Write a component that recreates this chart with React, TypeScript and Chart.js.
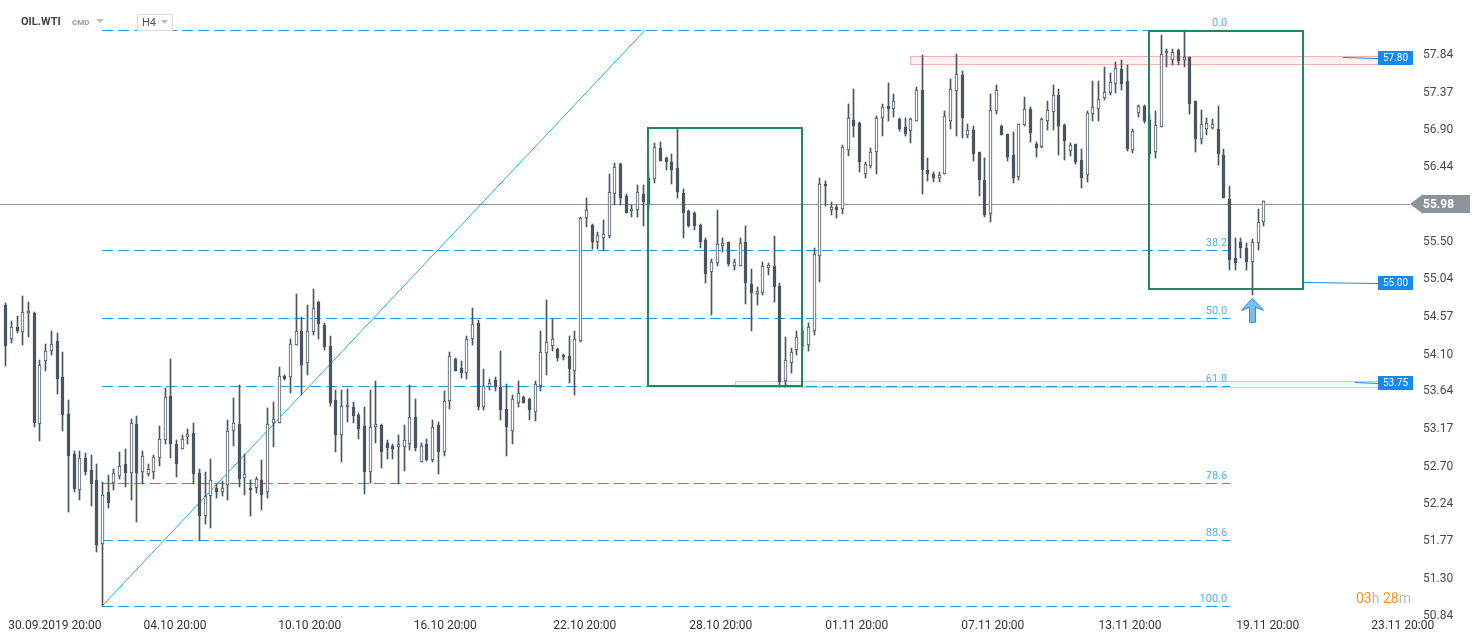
import React, { useEffect, useRef } from "react";
import { Chart, registerables } from "chart.js";

Chart.register(...registerables);

// ---------- data (OIL.WTI, H4) ----------
const opens = [
  54.72, 54.29, 54.45, 54.38, 54.62, 54.62, 53.23, 54.02, 54.15, 54.27, 53.82, 53.36, 52.86, 52.41, 52.81, 52.66, 52.53, 51.74, 52.38, 52.50,
  52.59, 52.73, 52.62, 53.23, 52.63, 52.61, 52.64, 52.81, 53.04, 53.58, 52.98, 52.92, 53.07, 53.12, 52.62, 52.08, 52.33, 52.43, 52.39, 52.47,
  53.14, 53.23, 52.56, 52.44, 52.44, 52.54, 52.38, 53.24, 53.25, 53.83, 53.82, 54.22, 54.39, 53.99, 54.38, 54.76, 54.47, 54.21, 53.53, 53.10,
  53.44, 53.45, 53.35, 53.21, 52.63, 53.19, 53.22, 53.00, 52.96, 52.95, 52.95, 52.99, 53.32, 52.76, 52.99, 52.78, 53.22, 52.89, 53.52, 54.04,
  53.93, 53.87, 54.29, 54.49, 53.45, 53.70, 53.78, 53.69, 53.42, 53.15, 53.50, 53.57, 53.55, 53.38, 53.71, 54.12, 54.21, 54.17, 54.10, 54.08,
  53.89, 54.27, 55.80, 55.72, 55.50, 55.55, 55.58, 56.10, 56.48, 56.08, 55.89, 55.91, 56.10, 56.30, 56.29, 56.68, 56.55, 56.51, 56.43, 56.12,
  55.89, 55.87, 55.72, 55.53, 55.13, 55.24, 55.45, 55.50, 55.21, 55.21, 55.50, 54.98, 54.86, 54.87, 55.18, 55.21, 54.96, 53.77, 54.00, 54.16,
  54.21, 54.22, 54.39, 55.33, 56.23, 55.90, 55.94, 55.92, 56.65, 57.03, 56.99, 56.35, 56.46, 56.63, 57.05, 57.20, 57.16, 57.04, 56.94, 56.89,
  57.02, 57.40, 56.41, 56.35, 56.30, 56.35, 57.02, 57.39, 57.59, 56.84, 56.90, 56.63, 56.28, 55.85, 57.14, 56.95, 56.85, 56.59, 56.32, 56.97,
  57.16, 56.73, 56.69, 57.02, 57.13, 57.34, 56.97, 56.64, 56.73, 56.53, 56.34, 57.10, 57.16, 57.30, 57.36, 57.48, 57.66, 57.51, 56.66, 57.11,
  57.20, 57.03, 56.63, 56.94, 57.86, 57.78, 57.90, 57.78, 57.81, 57.26, 56.79, 56.92, 56.93, 56.92, 56.59, 56.04, 55.30, 55.50, 55.43, 55.25,
  55.49, 55.76,
];
const highs = [
  54.74, 54.52, 54.58, 54.83, 54.76, 54.63, 54.03, 54.23, 54.39, 54.37, 54.13, 53.53, 52.90, 52.90, 52.87, 52.85, 52.73, 52.51, 52.60, 52.67,
  52.88, 52.92, 53.30, 53.33, 52.90, 52.73, 52.85, 53.21, 53.68, 54.04, 53.03, 53.10, 53.17, 53.25, 52.67, 52.63, 52.80, 52.48, 52.52, 53.28,
  53.56, 53.72, 52.86, 52.54, 52.57, 52.78, 53.43, 53.51, 53.94, 53.84, 54.29, 54.86, 54.57, 54.72, 54.92, 54.77, 54.49, 54.33, 53.66, 53.66,
  53.67, 53.51, 53.37, 53.45, 53.66, 53.77, 53.23, 53.04, 52.98, 53.10, 53.22, 53.72, 53.55, 53.00, 53.05, 53.28, 53.26, 53.65, 54.13, 54.06,
  54.02, 54.33, 54.68, 54.53, 53.92, 53.80, 53.82, 54.14, 53.73, 53.59, 53.77, 53.58, 53.56, 53.77, 54.39, 54.78, 54.55, 54.18, 54.11, 54.33,
  54.39, 55.82, 56.06, 55.73, 55.63, 55.78, 56.35, 56.49, 56.49, 56.10, 55.97, 56.22, 56.22, 56.38, 56.74, 56.75, 56.57, 56.60, 56.92, 56.17,
  55.90, 55.88, 55.73, 55.55, 55.29, 55.91, 55.56, 55.51, 55.29, 55.56, 55.71, 55.17, 54.95, 55.26, 55.24, 55.58, 54.99, 54.32, 54.18, 54.39,
  54.45, 54.50, 55.43, 56.31, 56.27, 56.01, 55.97, 56.72, 57.23, 57.42, 57.00, 56.50, 56.68, 57.08, 57.23, 57.49, 57.35, 57.05, 57.05, 57.06,
  57.44, 57.84, 56.56, 56.38, 56.38, 57.14, 57.54, 57.85, 57.64, 56.98, 56.96, 56.63, 56.55, 57.35, 57.47, 56.97, 56.85, 56.88, 56.98, 57.32,
  57.19, 56.75, 57.05, 57.27, 57.47, 57.41, 56.98, 56.74, 56.73, 56.67, 57.14, 57.51, 57.51, 57.69, 57.62, 57.75, 57.78, 57.71, 56.92, 57.21,
  57.22, 57.09, 57.14, 58.09, 57.92, 57.91, 57.91, 58.15, 57.82, 57.27, 57.15, 57.05, 57.04, 57.20, 56.67, 56.20, 55.55, 55.55, 55.49, 55.54,
  55.92, 56.02,
];
const lows = [
  53.96, 54.24, 54.37, 54.22, 54.32, 53.19, 53.02, 53.89, 54.10, 53.61, 53.15, 52.14, 52.38, 52.28, 52.60, 52.21, 51.63, 50.96, 52.18, 52.41,
  52.55, 52.45, 52.28, 52.01, 52.49, 52.58, 52.55, 52.71, 52.98, 52.81, 52.57, 52.92, 52.98, 52.49, 51.79, 51.99, 51.93, 52.31, 52.33, 52.28,
  52.96, 52.45, 52.35, 52.08, 52.37, 52.16, 52.31, 52.95, 53.25, 53.78, 53.62, 54.22, 53.60, 53.84, 54.34, 54.29, 54.16, 53.46, 52.89, 52.76,
  53.26, 53.24, 53.05, 52.36, 52.50, 53.00, 52.69, 52.80, 52.80, 52.49, 52.65, 52.91, 52.90, 52.76, 52.77, 52.76, 52.61, 52.83, 53.42, 53.89,
  53.81, 53.80, 54.22, 53.41, 53.41, 53.66, 53.64, 53.28, 52.84, 52.99, 53.44, 53.49, 53.28, 53.27, 53.64, 53.84, 54.14, 54.02, 54.03, 53.75,
  53.59, 54.26, 55.69, 55.42, 55.42, 55.40, 55.56, 55.97, 55.97, 55.87, 55.82, 55.82, 55.71, 55.91, 56.24, 56.52, 56.40, 56.23, 56.06, 55.56,
  55.69, 55.65, 55.43, 55.00, 54.59, 55.21, 55.38, 55.20, 55.15, 55.20, 54.73, 54.40, 54.72, 54.85, 55.09, 54.76, 53.70, 53.70, 53.87, 54.10,
  54.15, 54.15, 54.34, 55.01, 55.96, 55.84, 55.81, 55.85, 56.58, 56.82, 56.38, 56.31, 56.43, 56.36, 56.83, 57.02, 57.07, 56.89, 56.83, 56.74,
  57.02, 56.10, 56.27, 56.26, 56.25, 56.35, 56.92, 56.83, 56.81, 56.81, 56.52, 56.08, 55.82, 55.76, 57.10, 56.84, 56.52, 56.24, 56.28, 56.95,
  56.76, 56.57, 56.68, 56.91, 56.91, 56.59, 56.53, 56.58, 56.48, 56.18, 56.25, 57.02, 57.02, 57.28, 57.34, 57.36, 57.40, 56.64, 56.62, 57.07,
  56.99, 56.55, 56.56, 56.94, 57.69, 57.72, 57.72, 57.69, 57.10, 56.63, 56.73, 56.84, 56.92, 56.47, 56.05, 55.15, 55.15, 55.30, 55.15, 54.84,
  55.40, 55.70,
];
const closes = [
  54.21, 54.44, 54.39, 54.63, 54.64, 53.24, 53.97, 54.15, 54.23, 53.80, 53.35, 52.84, 52.42, 52.81, 52.64, 52.49, 51.72, 52.35, 52.25, 52.62,
  52.71, 52.62, 53.25, 52.62, 52.83, 52.67, 52.82, 53.05, 53.57, 52.99, 52.74, 53.05, 53.11, 52.61, 52.08, 52.33, 52.53, 52.38, 52.44, 53.14,
  53.24, 52.55, 52.61, 52.41, 52.55, 52.35, 53.23, 53.30, 53.83, 53.79, 54.23, 54.39, 53.97, 54.39, 54.68, 54.48, 54.20, 53.50, 53.09, 53.46,
  53.47, 53.33, 53.17, 52.64, 53.20, 53.23, 52.88, 52.94, 52.92, 52.98, 53.03, 53.32, 52.94, 52.96, 52.78, 53.20, 52.89, 53.52, 54.08, 53.90,
  53.87, 54.30, 54.48, 53.45, 53.71, 53.75, 53.69, 53.41, 53.19, 53.55, 53.62, 53.50, 53.41, 53.73, 54.13, 54.26, 54.30, 54.06, 54.07, 53.92,
  54.29, 55.81, 55.91, 55.50, 55.59, 55.60, 56.13, 56.44, 56.05, 55.87, 55.92, 56.13, 56.00, 55.98, 56.69, 56.52, 56.51, 56.41, 56.13, 55.87,
  55.70, 55.70, 55.51, 55.10, 55.26, 55.48, 55.49, 55.23, 55.25, 55.49, 54.99, 54.87, 54.89, 55.21, 55.22, 54.95, 53.76, 54.03, 54.13, 54.32,
  54.40, 54.44, 55.35, 56.23, 56.20, 55.94, 55.91, 56.69, 57.05, 56.95, 56.51, 56.48, 56.63, 57.05, 57.19, 57.17, 57.26, 56.92, 56.86, 57.04,
  57.40, 56.41, 56.36, 56.30, 56.34, 57.08, 57.42, 57.60, 57.06, 56.91, 56.61, 56.28, 55.84, 57.15, 57.40, 56.84, 56.57, 56.31, 56.98, 57.17,
  56.87, 56.68, 57.04, 57.15, 57.34, 56.95, 56.77, 56.72, 56.50, 56.31, 57.12, 57.19, 57.29, 57.38, 57.50, 57.68, 57.48, 56.67, 56.89, 57.20,
  57.02, 56.60, 56.97, 57.85, 57.89, 57.88, 57.76, 57.81, 57.23, 56.79, 56.98, 56.99, 56.98, 56.61, 56.06, 55.28, 55.24, 55.43, 55.26, 55.50,
  55.76, 56.02,
];

const xTickLabels = [
  "30.09.2019 20:00", "04.10 20:00", "10.10 20:00", "16.10 20:00", "22.10 20:00", "28.10 20:00",
  "01.11 20:00", "07.11 20:00", "13.11 20:00", "19.11 20:00", "23.11 20:00",
];
const xTickIndex = [8.7, 29.8, 53.5, 77.3, 101.8, 125.7, 149.6, 173.5, 197.6, 221.8, 245.5];
const yTickLabels = [
  "57.84", "57.37", "56.90", "56.44", "55.50", "55.04", "54.57", "54.10",
  "53.64", "53.17", "52.70", "52.24", "51.77", "51.30", "50.84",
];

const lastPrice = 55.98;
const fibLevels = [0, 38.2, 50, 61.8, 78.6, 88.6, 100];
const fibLabels = ["0.0", "38.2", "50.0", "61.8", "78.6", "88.6", "100.0"];
const fibHigh = 58.15;
const fibLow = 50.96;
const fibStartIdx = 17;
const fibEndIdx = 215.2;
const trendEndIdx = 112.4;

const boxFrom = [112.9, 200.9];
const boxTo = [140.0, 228.0];
const boxTop = [56.93, 58.14];
const boxBottom = [53.71, 54.92];

const zoneFrom = [158.9, 128.2];
const zoneTo = [241.2, 241.2];
const zoneTop = [57.83, 53.77];
const zoneBottom = [57.73, 53.70];

const tagLabels = ["57.80", "55.00", "53.75"];
const tagValues = [57.8, 55.0, 53.75];
const tagLineFrom = [235.0, 228.0, 237.1];

const arrowIdx = 219;
const timerParts = ["03", "h", " 28", "m"];

// ---------- layout constants ----------
const W = 1482;
const H = 643;
const X_MIN = -0.93;
const X_MAX = 246.79;
const Y_MIN = 50.824;
const Y_MAX = 58.527;
const DARK = "#47565f";
const FIB_BLUE = "#1a9fe8";
const FONT = "Roboto, 'Liberation Sans', Arial, sans-serif";

const fibPrice = (lvl: number) => fibHigh - (lvl / 100) * (fibHigh - fibLow);

// pixel-snap candle elements so 1px wicks and 3px bodies stay crisp
const snapPlugin = {
  id: "snapCandles",
  afterDatasetsUpdate(chart: any) {
    chart.getSortedVisibleDatasetMetas().forEach((meta: any) => {
      meta.data.forEach((el: any) => {
        el.x = Math.round(el.x) + 0.5;
        el.y = Math.round(el.y);
        el.base = Math.round(el.base);
      });
    });
  },
};

const overlayPlugin = {
  id: "overlays",
  beforeDatasetsDraw(chart: any) {
    const { ctx, chartArea } = chart;
    const xs = chart.scales.x;
    const ys = chart.scales.y;
    const px = (v: number) => xs.getPixelForValue(v);
    const py = (v: number) => ys.getPixelForValue(v);
    const snap = (v: number) => Math.round(v) + 0.5;
    ctx.save();
    // zones
    const zoneFill = ["rgba(250,205,205,0.30)", "rgba(190,240,220,0.30)"];
    const zoneStroke = ["#f3b3b3", "#9fe2c6"];
    for (let i = 0; i < zoneFrom.length; i++) {
      const x1 = px(zoneFrom[i]);
      const x2 = px(zoneTo[i]);
      const y1 = py(zoneTop[i]);
      const y2 = py(zoneBottom[i]);
      ctx.fillStyle = zoneFill[i];
      ctx.fillRect(x1, y1, x2 - x1, y2 - y1);
      ctx.strokeStyle = zoneStroke[i];
      ctx.lineWidth = 1;
      ctx.strokeRect(snap(x1), snap(y1), Math.round(x2 - x1), Math.round(y2 - y1));
    }
    // current price line
    ctx.strokeStyle = "#8d969c";
    ctx.lineWidth = 1;
    const yp = snap(py(lastPrice));
    ctx.beginPath();
    ctx.moveTo(chartArea.left, yp);
    ctx.lineTo(chartArea.right, yp);
    ctx.stroke();
    // fib lines
    ctx.setLineDash([11, 5]);
    ctx.strokeStyle = FIB_BLUE;
    for (const lvl of fibLevels) {
      const yy = snap(py(fibPrice(lvl)));
      ctx.beginPath();
      ctx.moveTo(px(fibStartIdx), yy);
      ctx.lineTo(px(fibEndIdx), yy);
      ctx.stroke();
    }
    ctx.setLineDash([]);
    // trend line
    ctx.strokeStyle = "#2aa6ef";
    ctx.beginPath();
    ctx.moveTo(px(fibStartIdx), py(fibLow));
    ctx.lineTo(px(trendEndIdx), py(fibHigh));
    ctx.stroke();
    ctx.restore();
  },
  afterDatasetsDraw(chart: any) {
    const { ctx, chartArea } = chart;
    const xs = chart.scales.x;
    const ys = chart.scales.y;
    const px = (v: number) => xs.getPixelForValue(v);
    const py = (v: number) => ys.getPixelForValue(v);
    ctx.save();
    // green boxes
    ctx.strokeStyle = "#22875c";
    ctx.lineWidth = 2;
    for (let i = 0; i < boxFrom.length; i++) {
      const x1 = Math.round(px(boxFrom[i]));
      const x2 = Math.round(px(boxTo[i]));
      const y1 = Math.round(py(boxTop[i]));
      const y2 = Math.round(py(boxBottom[i]));
      ctx.strokeRect(x1, y1, x2 - x1, y2 - y1);
    }
    // fib labels
    ctx.font = `11px ${FONT}`;
    ctx.fillStyle = "#4db3ee";
    ctx.textAlign = "right";
    ctx.textBaseline = "alphabetic";
    fibLevels.forEach((lvl, i) => {
      const yy = Math.round(py(fibPrice(lvl)));
      ctx.fillText(fibLabels[i], px(fibEndIdx) - 3, yy - 4);
    });
    // value tags
    const tagLeft = px(zoneTo[0]);
    for (let i = 0; i < tagLabels.length; i++) {
      const yc = Math.round(py(tagValues[i]));
      ctx.strokeStyle = "#1e88e5";
      ctx.lineWidth = 1;
      ctx.beginPath();
      ctx.moveTo(px(tagLineFrom[i]), yc - 0.5);
      ctx.lineTo(tagLeft, yc + 0.5);
      ctx.stroke();
      ctx.fillStyle = "#1589ee";
      ctx.fillRect(Math.round(tagLeft), yc - 7, 35, 14);
      ctx.fillStyle = "#ffffff";
      ctx.font = `10px ${FONT}`;
      ctx.textAlign = "center";
      ctx.textBaseline = "middle";
      ctx.fillText(tagLabels[i], Math.round(tagLeft) + 17.5, yc + 0.5);
    }
    // up arrow marker
    const ax = Math.round(px(arrowIdx)) + 0.5;
    const ay = py(lows[arrowIdx]) + 3;
    ctx.beginPath();
    ctx.moveTo(ax, ay);
    ctx.lineTo(ax + 11, ay + 12);
    ctx.lineTo(ax + 3, ay + 9);
    ctx.lineTo(ax + 3, ay + 24);
    ctx.lineTo(ax - 3, ay + 24);
    ctx.lineTo(ax - 3, ay + 9);
    ctx.lineTo(ax - 11, ay + 12);
    ctx.closePath();
    ctx.fillStyle = "#74c0f6";
    ctx.fill();
    ctx.strokeStyle = "#2f8ee0";
    ctx.lineWidth = 1;
    ctx.stroke();
    // last price tag
    const r = chartArea.right;
    const yc = Math.round(py(lastPrice));
    ctx.beginPath();
    ctx.moveTo(r, yc);
    ctx.lineTo(r + 12, yc - 9);
    ctx.lineTo(r + 60, yc - 9);
    ctx.lineTo(r + 60, yc + 9);
    ctx.lineTo(r + 12, yc + 9);
    ctx.closePath();
    ctx.fillStyle = "#8b949a";
    ctx.fill();
    ctx.fillStyle = "#ffffff";
    ctx.font = `bold 12px ${FONT}`;
    ctx.textAlign = "left";
    ctx.textBaseline = "middle";
    ctx.fillText(lastPrice.toFixed(2), r + 13, yc + 0.5);
    ctx.restore();
  },
  afterDraw(chart: any) {
    const { ctx } = chart;
    ctx.save();
    ctx.textBaseline = "middle";
    ctx.textAlign = "left";
    ctx.font = `bold 11px ${FONT}`;
    ctx.fillStyle = "#3a4550";
    ctx.fillText("OIL.WTI", 21, 22);
    ctx.font = `bold 8px ${FONT}`;
    ctx.fillStyle = "#8e9aa6";
    ctx.fillText("CMD", 72, 23);
    ctx.fillStyle = "#b8c0c6";
    ctx.beginPath();
    ctx.moveTo(96, 19);
    ctx.lineTo(104, 19);
    ctx.lineTo(100, 23);
    ctx.closePath();
    ctx.fill();
    ctx.strokeStyle = "#dcdcdc";
    ctx.lineWidth = 1;
    ctx.strokeRect(137.5, 14.5, 35, 16);
    ctx.font = `11px ${FONT}`;
    ctx.fillStyle = "#555555";
    ctx.fillText("H4", 142, 23);
    ctx.fillStyle = "#b8c0c6";
    ctx.beginPath();
    ctx.moveTo(161, 20);
    ctx.lineTo(168, 20);
    ctx.lineTo(164.5, 24);
    ctx.closePath();
    ctx.fill();
    // timer
    ctx.font = `14px ${FONT}`;
    ctx.textBaseline = "alphabetic";
    let tx = 1356;
    timerParts.forEach((t, i) => {
      ctx.fillStyle = i % 2 === 0 ? "#f7941d" : "#b9b9b9";
      ctx.fillText(t, tx, 603);
      tx += ctx.measureText(t).width;
    });
    ctx.restore();
  },
};

export default function App() {
  const ref = useRef<HTMLCanvasElement | null>(null);
  useEffect(() => {
    if (!ref.current) return;
    const idx = opens.map((_, i) => i);
    const chart = new Chart(ref.current, {
      type: "bar",
      data: {
        datasets: [
          {
            label: "wick",
            data: idx.map((i) => ({ x: i, y: [lows[i], highs[i]] })) as any,
            backgroundColor: DARK,
            borderWidth: 0,
            barThickness: 1,
            grouped: false,
            order: 2,
          } as any,
          {
            label: "body",
            data: idx.map((i) => ({ x: i, y: [opens[i], closes[i]] })) as any,
            backgroundColor: idx.map((i) => (closes[i] >= opens[i] ? "#ffffff" : DARK)),
            borderColor: DARK,
            borderWidth: 1,
            borderSkipped: false,
            barThickness: 3,
            minBarLength: 2,
            grouped: false,
            order: 1,
          } as any,
        ],
      },
      options: {
        responsive: false,
        animation: false,
        devicePixelRatio: 1,
        layout: { padding: 0 },
        plugins: { legend: { display: false }, tooltip: { enabled: false } },
        scales: {
          x: {
            type: "linear",
            min: X_MIN,
            max: X_MAX,
            offset: false,
            grid: { display: false, drawTicks: false },
            border: { display: false },
            afterBuildTicks: (s: any) => {
              s.ticks = xTickIndex.map((v) => ({ value: v }));
            },
            afterFit: (s: any) => {
              s.height = 26;
              s.paddingLeft = 0;
              s.paddingRight = 0;
            },
            ticks: {
              autoSkip: false,
              maxRotation: 0,
              minRotation: 0,
              padding: 2,
              color: "#333333",
              font: { family: FONT, size: 12 },
              callback: (_v: any, i: number) => xTickLabels[i],
            },
          },
          y: {
            type: "linear",
            position: "right",
            min: Y_MIN,
            max: Y_MAX,
            grid: { display: false, drawTicks: false },
            border: { display: false },
            afterBuildTicks: (s: any) => {
              s.ticks = yTickLabels.map((t) => ({ value: parseFloat(t) }));
            },
            afterFit: (s: any) => {
              s.width = 72;
              s.paddingTop = 0;
              s.paddingBottom = 0;
            },
            ticks: {
              autoSkip: false,
              padding: 13,
              color: "#4a4a4a",
              font: { family: FONT, size: 12 },
              callback: (_v: any, i: number) => yTickLabels[i],
            },
          },
        },
      } as any,
      plugins: [snapPlugin as any, overlayPlugin as any],
    });
    return () => chart.destroy();
  }, []);
  return (
    <div style={{ position: "fixed", left: 0, top: 0, width: W, height: H, background: "#ffffff" }}>
      <canvas ref={ref} width={W} height={H} style={{ display: "block", width: W, height: H }} />
    </div>
  );
}
